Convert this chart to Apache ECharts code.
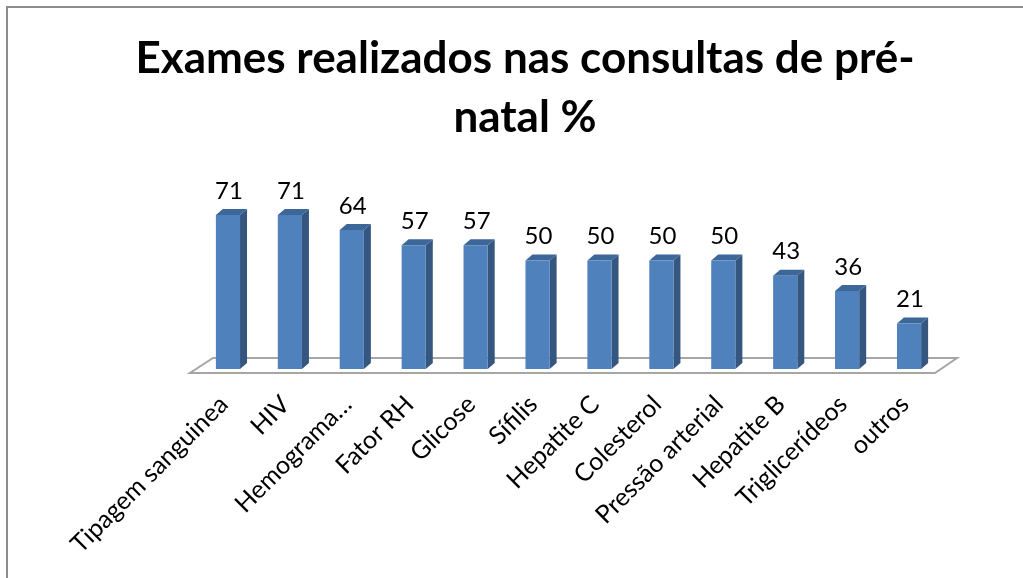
<!DOCTYPE html>
<html><head><meta charset="utf-8">
<script src="https://cdn.jsdelivr.net/npm/echarts@6/dist/echarts.min.js"></script>
<style>html,body{margin:0;padding:0;background:#fff}#c{width:1023px;height:578px}</style>
</head><body><div id="c"></div>
<script>
const titleText = 'Exames realizados nas consultas de pré-\nnatal %';
const categories = ['Tipagem sanguinea','HIV','Hemograma…','Fator RH','Glicose','Sífilis','Hepatite C','Colesterol','Pressão arterial','Hepatite B','Triglicerídeos','outros'];
const values = [71,71,64,57,57,50,50,50,50,43,36,21];

const FONT = 'Lato, Carlito, "Open Sans", sans-serif';

function renderBar(params, api){
  const idx = api.value(0);
  const v = api.value(1);
  const base = api.coord([idx, 0]);
  const top = api.coord([idx, v]);
  const bw = api.size([1, 0])[0];
  const w = bw * 0.39;
  const dx = 7, dy = -6;
  const x0 = base[0] - w / 2, x1 = base[0] + w / 2;
  const yb = base[1], yt = top[1];
  return {type:'group', children:[
    {type:'polygon', shape:{points:[[x1,yb],[x1+dx,yb+dy],[x1+dx,yt+dy],[x1,yt]]}, style:{fill:'#34567f'}},
    {type:'polygon', shape:{points:[[x0,yt],[x1,yt],[x1+dx,yt+dy],[x0+dx,yt+dy]]}, style:{fill:'#3d6699'}},
    {type:'rect', shape:{x:x0,y:yt,width:w,height:yb-yt}, style:{fill:'#4f81bd'}},
    {type:'text', x:base[0]+1, y:yt-12, style:{text:String(v), fontFamily:FONT, fontSize:24, fill:'#000', align:'center', verticalAlign:'bottom'}}
  ]};
}

function renderFloor(params, api){
  const n = categories.length;
  const bw = api.size([1, 0])[0];
  const a = api.coord([0, 0]);
  const b = api.coord([n - 1, 0]);
  const xL = a[0] - bw / 2, xR = b[0] + bw / 2, y0 = a[1];
  return {type:'polygon', shape:{points:[[xL-7,y0+4],[xR-5,y0+4],[xR+17,y0-11],[xL+16,y0-11]]},
    style:{fill:'#ffffff', stroke:'#a6a6a6', lineWidth:2}};
}

const chart = echarts.init(document.getElementById('c'), null, {renderer:'canvas'});
chart.setOption({
  backgroundColor:'#ffffff',
  animation:false,
  title:{text:titleText, left:520, top:24, textAlign:'center',
    textStyle:{fontFamily:FONT, fontWeight:'bold', fontSize:44, lineHeight:59, color:'#000'}},
  graphic:[{type:'rect', shape:{x:7,y:7,width:1100,height:700}, style:{fill:null, stroke:'#8c8c8c', lineWidth:2}, z:-1}],
  grid:{left:197, right:83, top:152, bottom:209, containLabel:false},
  xAxis:{type:'category', data:categories, axisLine:{show:false}, axisTick:{show:false}, splitLine:{show:false},
    axisLabel:{interval:0, rotate:45, margin:27, padding:[0,6,0,0], fontFamily:FONT, fontSize:25, color:'#000'}},
  yAxis:{type:'value', min:0, max:100, show:false},
  series:[
    {type:'custom', renderItem:renderFloor, data:[[0,0]], encode:{x:0,y:1}, z:1, silent:true},
    {type:'custom', renderItem:renderBar, data:values.map((v,i)=>[i,v]), encode:{x:0,y:1}, z:2}
  ]
});
</script></body></html>
